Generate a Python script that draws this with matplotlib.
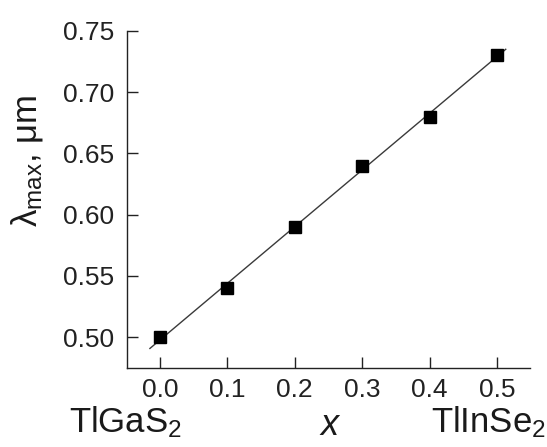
import numpy as np
import matplotlib
matplotlib.use("Agg")
import matplotlib.pyplot as plt

plt.rcParams['font.family'] = ['Liberation Sans', 'DejaVu Sans']
plt.rcParams['mathtext.fontset'] = 'custom'
plt.rcParams['mathtext.rm'] = 'Liberation Sans'
plt.rcParams['mathtext.it'] = 'Liberation Sans:italic'

x = [0.0, 0.1, 0.2, 0.3, 0.4, 0.5]
lam = [0.50, 0.54, 0.59, 0.64, 0.68, 0.73]
xticks = [0.0, 0.1, 0.2, 0.3, 0.4, 0.5]
yticks = [0.50, 0.55, 0.60, 0.65, 0.70, 0.75]
fit_range = [-0.015, 0.513]

fig = plt.figure(figsize=(5.47, 4.47), dpi=100)
ax = fig.add_axes([127 / 547, 79 / 447, 403 / 547, 337 / 447])

k, b = np.polyfit(x, lam, 1)
xf = np.array(fit_range)
ax.plot(xf, k * xf + b, color='#3a3a3a', lw=1.0, zorder=2)
ax.plot(x, lam, 's', color='black', ms=8, zorder=3)

ax.set_xlim(-0.049, 0.549)
ax.set_ylim(0.4747, 0.75)
ax.set_xticks(xticks)
ax.set_xticklabels([f'{v:.1f}' for v in xticks])
ax.set_yticks(yticks)
ax.set_yticklabels([f'{v:.2f}' for v in yticks])

for s in ['top', 'right']:
    ax.spines[s].set_visible(False)
for s in ['left', 'bottom']:
    ax.spines[s].set_linewidth(1.0)
    ax.spines[s].set_color('#222222')

ax.tick_params(direction='in', length=8, width=1.0, labelsize=19, colors='#222222')
ax.tick_params(axis='x', pad=7)
ax.tick_params(axis='y', pad=9)

txtc = '#1a1a1a'
fig.text(27 / 547, (447 - 161) / 447, r'λ$_{\mathregular{max}}$, μm', fontsize=25,
         rotation=90, ha='center', va='center', color=txtc)
fig.text(330 / 547, (447 - 435) / 447, 'x', fontsize=26, fontstyle='italic',
         ha='center', va='baseline', color=txtc)
fig.text(126 / 547, (447 - 432) / 447, r'$\mathregular{TlGaS_2}$', fontsize=25,
         ha='center', va='baseline', color=txtc)
fig.text(546 / 547, (447 - 432) / 447, r'$\mathregular{TlInSe_2}$', fontsize=25,
         ha='right', va='baseline', color=txtc)

fig.savefig('out.png', dpi=100)
